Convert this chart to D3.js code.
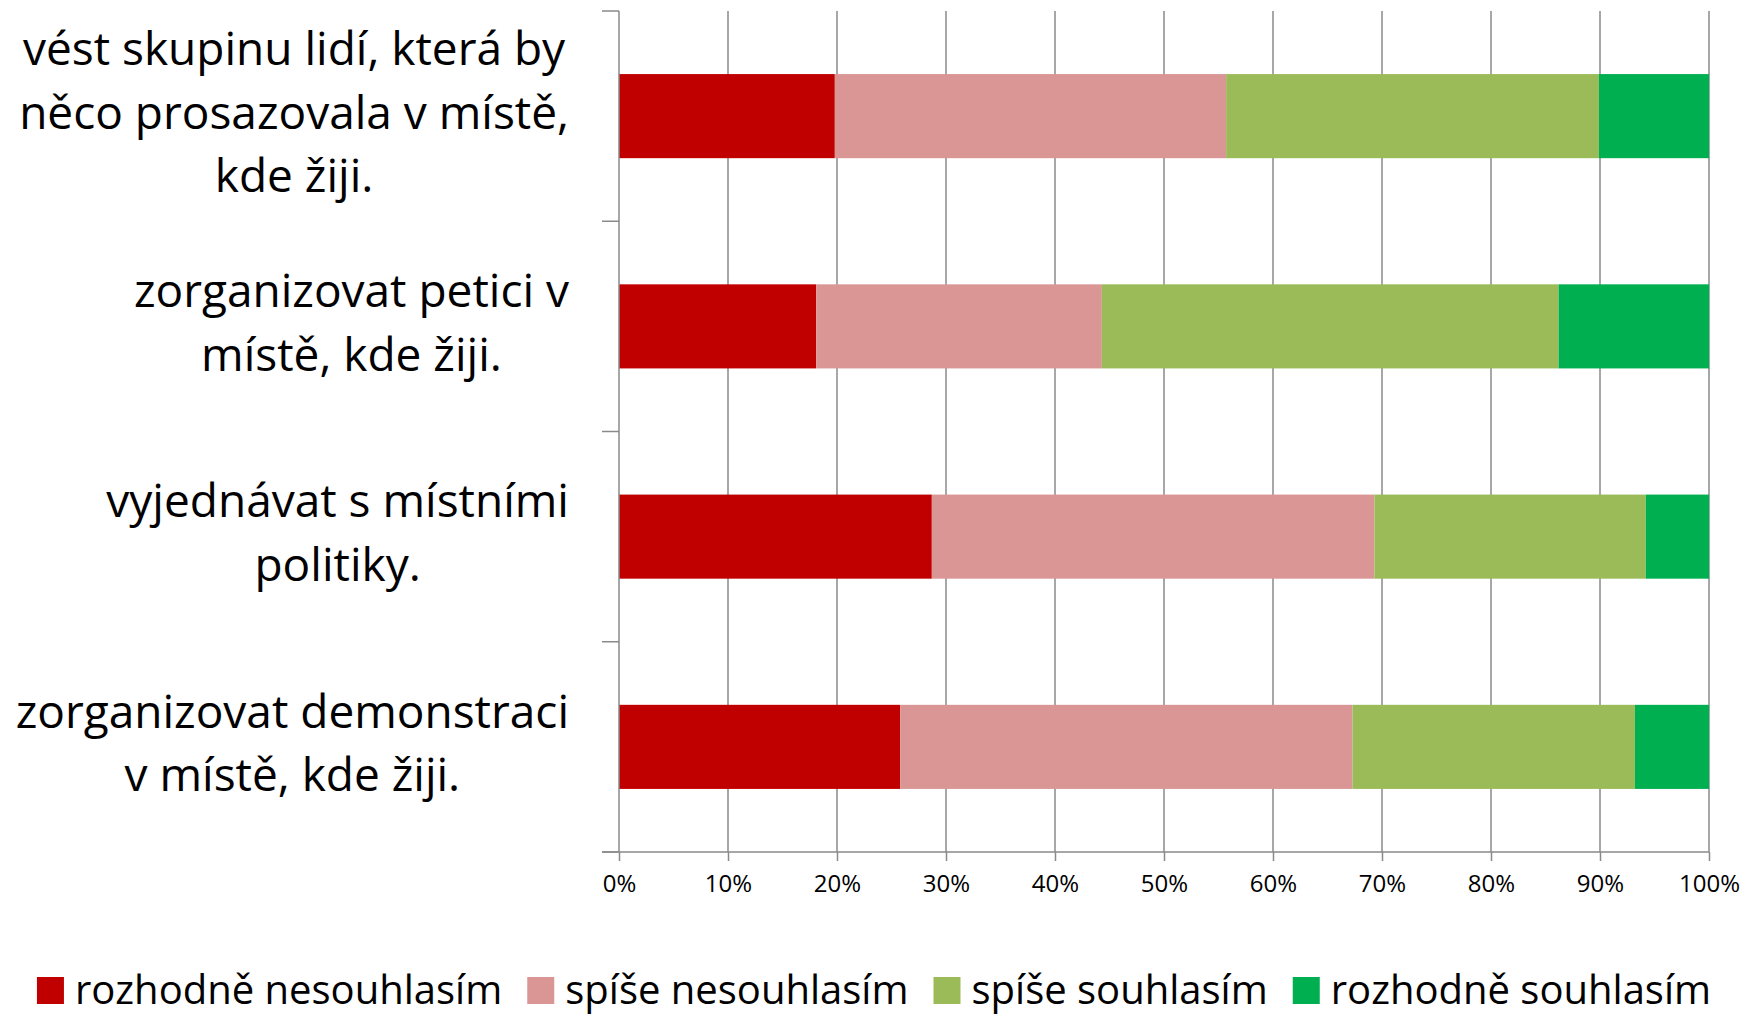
<!DOCTYPE html>
<html>
<head>
<meta charset="utf-8">
<script src="https://cdn.jsdelivr.net/npm/d3@7"></script>
<style>
  body { margin: 0; background: #fff; }
  svg { display: block; font-family: "Open Sans", sans-serif; }
</style>
</head>
<body>
<svg id="chart"></svg>
<script>
// categories, top to bottom
const categories = [
  "vést skupinu lidí, která by něco prosazovala v místě, kde žiji.",
  "zorganizovat petici v místě, kde žiji.",
  "vyjednávat s místními politiky.",
  "zorganizovat demonstraci v místě, kde žiji.",
];
// wrapped the way the original label boxes wrap them
const categoryLines = [
  ["vést skupinu lidí, která by", "něco prosazovala v místě,", "kde žiji."],
  ["zorganizovat petici v", "místě, kde žiji."],
  ["vyjednávat s místními", "politiky."],
  ["zorganizovat demonstraci", "v místě, kde žiji."],
];

const seriesNames = ["rozhodně nesouhlasím", "spíše nesouhlasím", "spíše souhlasím", "rozhodně souhlasím"];
// percentages, same order as categories
const rozhodneNesouhlasim = [19.8, 18.1, 28.7, 25.8];
const spiseNesouhlasim = [35.9, 26.2, 40.6, 41.5];
const spiseSouhlasim = [34.2, 41.9, 24.9, 25.9];
const rozhodneSouhlasim = [10.1, 13.8, 5.8, 6.8];

const xTicks = [0, 10, 20, 30, 40, 50, 60, 70, 80, 90, 100];

const colors = ["#C00000", "#D99694", "#9BBB59", "#00B050"];

// SVG dimensions
const width = 1748;
const height = 1015;
const plot = { left: 619, right: 1709, top: 11, bottom: 852 };
const gridColor = "#8a8a8a";

const svg = d3.select("#chart").attr("width", width).attr("height", height);

// table for stacking
const table = categories.map((c, i) => ({
  category: c,
  [seriesNames[0]]: rozhodneNesouhlasim[i],
  [seriesNames[1]]: spiseNesouhlasim[i],
  [seriesNames[2]]: spiseSouhlasim[i],
  [seriesNames[3]]: rozhodneSouhlasim[i],
}));
const stacked = d3.stack().keys(seriesNames)(table);

const xScale = d3.scaleLinear().domain([0, 100]).range([plot.left, plot.right]);

const yScale = d3
  .scaleBand()
  .domain(categories)
  .range([plot.top, plot.bottom])
  .paddingInner(0.6)
  .paddingOuter(0.3);

const color = d3.scaleOrdinal().domain(seriesNames).range(colors);

// vertical gridlines
svg
  .append("g")
  .selectAll("line")
  .data(xTicks.filter((d) => d > 0))
  .enter()
  .append("line")
  .attr("x1", (d) => xScale(d))
  .attr("x2", (d) => xScale(d))
  .attr("y1", plot.top)
  .attr("y2", plot.bottom)
  .style("stroke", gridColor)
  .style("stroke-width", 1.5);

// bars
svg
  .append("g")
  .selectAll("g")
  .data(stacked)
  .enter()
  .append("g")
  .style("fill", (d) => color(d.key))
  .selectAll("rect")
  .data((d) => d)
  .enter()
  .append("rect")
  .attr("x", (d) => xScale(d[0]))
  .attr("y", (d) => yScale(d.data.category))
  .attr("width", (d) => xScale(d[1]) - xScale(d[0]))
  .attr("height", yScale.bandwidth());

// category axis: line + ticks between the categories
const yAxis = svg.append("g");
const bounds = d3.range(categories.length + 1).map((i) => plot.top + i * yScale.step());
yAxis
  .append("line")
  .attr("x1", plot.left)
  .attr("x2", plot.left)
  .attr("y1", plot.top)
  .attr("y2", plot.bottom)
  .style("stroke", gridColor)
  .style("stroke-width", 1.5);
yAxis
  .selectAll("line.tick")
  .data(bounds)
  .enter()
  .append("line")
  .attr("class", "tick")
  .attr("x1", plot.left - 17)
  .attr("x2", plot.left)
  .attr("y1", (d) => d)
  .attr("y2", (d) => d)
  .style("stroke", gridColor)
  .style("stroke-width", 1.5);

// category labels, centred block right-aligned to the axis
const labelRight = 569;
const lineGap = 63.5;
const labels = svg
  .append("g")
  .style("font-size", "46px")
  .style("fill", "#000");
categories.forEach((c, i) => {
  const lines = categoryLines[i];
  const cy = yScale(c) + yScale.bandwidth() / 2;
  const t = labels.append("text").attr("text-anchor", "middle");
  lines.forEach((ln, j) => {
    t.append("tspan")
      .attr("x", 0)
      .attr("y", cy + (j - (lines.length - 1) / 2) * lineGap)
      .attr("dy", "0.27em")
      .text(ln);
  });
  const w = d3.max(t.selectAll("tspan").nodes(), (n) => n.getComputedTextLength());
  t.selectAll("tspan").attr("x", labelRight - w / 2);
});

// value axis
const xAxis = d3
  .axisBottom(xScale)
  .tickValues(xTicks)
  .tickFormat((d) => d + "%")
  .tickSizeInner(9)
  .tickSizeOuter(0)
  .tickPadding(14);

const xg = svg
  .append("g")
  .attr("transform", `translate(0, ${plot.bottom})`)
  .call(xAxis);
xg.select(".domain").remove();
xg.selectAll(".tick line").style("stroke", gridColor).style("stroke-width", 1.5);
xg.selectAll("text")
  .style("fill", "#000")
  .style("font-size", "24px")
  .style("font-family", "'Open Sans', sans-serif");
svg
  .append("line")
  .attr("x1", plot.left - 17)
  .attr("x2", plot.right)
  .attr("y1", plot.bottom)
  .attr("y2", plot.bottom)
  .style("stroke", gridColor)
  .style("stroke-width", 1.5);

// legend
const legend = svg.append("g").style("font-size", "40px");
const sw = 27;
const legendTop = 977;
const gap = 25;
const items = legend
  .selectAll("g")
  .data(seriesNames)
  .enter()
  .append("g");
items
  .append("rect")
  .attr("width", sw)
  .attr("height", sw)
  .attr("y", legendTop)
  .style("fill", (d) => color(d));
items
  .append("text")
  .attr("x", sw + 11)
  .attr("y", legendTop + sw / 2)
  .attr("dy", "0.34em")
  .style("fill", "#000")
  .text((d) => d);

let offset = 0;
const pos = [];
items.each(function () {
  const tw = d3.select(this).select("text").node().getComputedTextLength();
  pos.push(offset);
  offset += sw + 11 + tw + gap;
});
const total = offset - gap;
const start = width / 2 - total / 2;
items.attr("transform", (d, i) => `translate(${start + pos[i]}, 0)`);
</script>
</body>
</html>
